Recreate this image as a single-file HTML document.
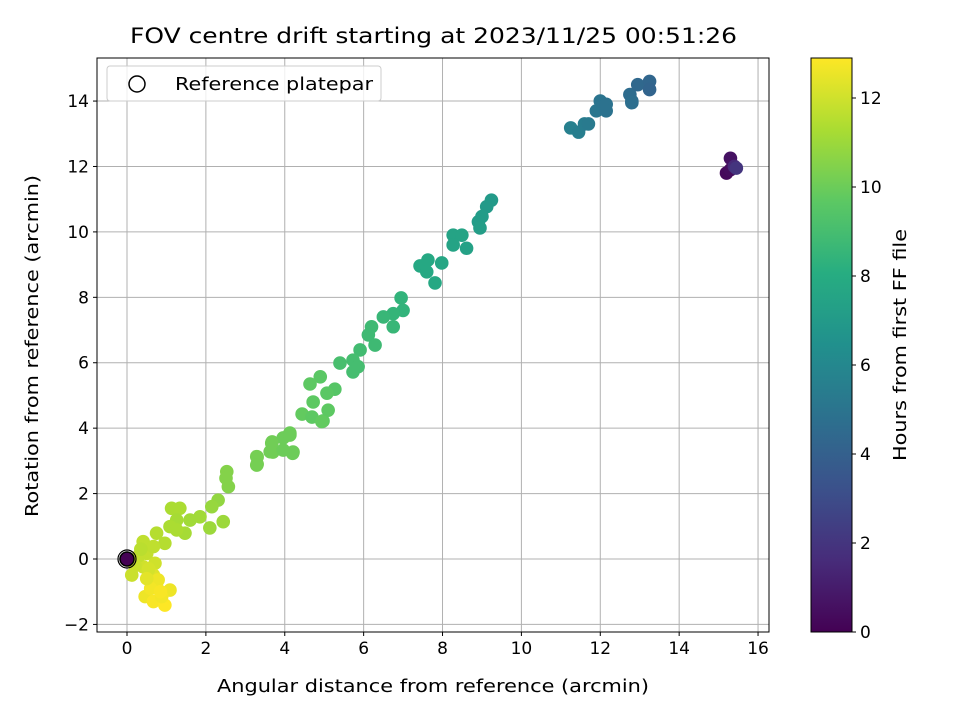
<!DOCTYPE html>
<html><head><meta charset="utf-8"><style>
body{margin:0;background:#fff}
svg text{font-family:"DejaVu Sans","Liberation Sans",sans-serif;fill:#000}
</style></head><body>
<svg id="chart" width="960" height="720" xmlns="http://www.w3.org/2000/svg">
<text x="130" y="43" font-size="21" textLength="607" lengthAdjust="spacingAndGlyphs">FOV centre drift starting at 2023/11/25 00:51:26</text>
<g id="grid"></g>
<g id="pts"></g>
<rect x="97" y="58" width="672" height="574" fill="none" stroke="#000" stroke-width="1"/>
<g id="axes"></g>
<text x="217" y="692" font-size="18" textLength="432" lengthAdjust="spacingAndGlyphs">Angular distance from reference (arcmin)</text>
<text transform="translate(38,517) rotate(-90)" font-size="18" textLength="342" lengthAdjust="spacingAndGlyphs">Rotation from reference (arcmin)</text>
<g>
<rect x="107" y="66" width="274" height="35" rx="3" fill="#fff" fill-opacity="0.8" stroke="#ccc"/>
<circle cx="137" cy="84" r="8" fill="none" stroke="#000" stroke-width="1.5"/>
<text x="175" y="90" font-size="18" textLength="198" lengthAdjust="spacingAndGlyphs">Reference platepar</text>
</g>
<defs><linearGradient id="vir" x1="0" y1="1" x2="0" y2="0"></linearGradient></defs>
<rect x="811" y="58" width="41" height="574" fill="url(#vir)" stroke="#000" stroke-width="1"/>
<g id="cbar"></g>
<text transform="translate(906,461) rotate(-90)" font-size="18" textLength="232" lengthAdjust="spacingAndGlyphs">Hours from first FF file</text>
</svg>
<script>
const xTicks=[0,2,4,6,8,10,12,14,16];
const yTicks=[-2,0,2,4,6,8,10,12,14];
const cTicks=[0,2,4,6,8,10,12];
const xs=[11.25,11.45,11.6,11.7,11.9,12.0,12.15,12.15,12.75,12.8,12.95,13.25,13.25,12.8,
15.2,15.3,15.3,15.4,15.45,
9.24,9.12,9.0,8.91,8.95,8.27,8.49,8.61,8.27,7.43,7.63,7.6,7.98,7.81,
6.95,7.0,6.75,6.5,6.75,6.2,6.12,6.29,5.91,5.73,5.86,5.73,5.4,
4.9,4.64,5.27,5.07,4.72,5.1,4.44,4.97,4.69,
4.13,3.68,3.96,4.21,3.7,3.3,3.3,
4.94,4.13,3.67,3.63,4.2,3.96,3.29,3.29,2.53,2.51,2.57,2.31,2.15,2.44,2.1,1.85,1.6,1.13,1.34,1.26,1.09,1.47,1.26,0.75,0.96,0.41,0.5,0.67,0.25,0.12,0.41,0.71,0.67,0.75,1.09,0.46,0.67,0.96,0.88,0.79,0.3,0.55,0.2,0.6,0.35,0.85,0.5];
const ys=[13.18,13.05,13.3,13.3,13.7,14.0,13.9,13.7,14.2,14.0,14.5,14.6,14.35,13.95,
11.8,11.9,12.25,12.0,11.95,
10.97,10.77,10.47,10.31,10.12,9.9,9.9,9.5,9.6,8.96,9.14,8.78,9.05,8.44,
7.98,7.6,7.5,7.4,7.1,7.1,6.85,6.54,6.39,6.08,5.88,5.72,5.99,
5.57,5.35,5.19,5.07,4.8,4.55,4.43,4.22,4.34,
3.85,3.58,3.7,3.27,3.27,3.12,2.9,
4.2,3.79,3.54,3.28,3.23,3.33,3.13,2.87,2.67,2.47,2.21,1.8,1.6,1.14,0.95,1.29,1.19,1.55,1.55,1.19,0.99,0.79,0.89,0.79,0.48,0.53,0.17,0.38,-0.03,-0.49,-0.24,-0.13,-0.49,-0.74,-0.95,-1.15,-1.3,-1.41,-1.15,-0.64,0.1,-0.3,-0.2,-0.9,0.3,-1.0,-0.6];
const hrs=[5.6,5.5,5.4,5.3,5.1,5.0,4.9,4.9,4.6,4.6,4.4,4.3,4.2,4.7,
0.3,0.4,0.6,1.5,2.0,
7.0,7.0,7.1,7.1,7.2,7.5,7.5,7.4,7.5,7.8,7.8,7.8,7.7,7.8,
8.4,8.4,8.5,8.6,8.6,8.8,8.8,8.8,8.9,9.0,9.0,9.0,9.1,
9.6,9.7,9.5,9.6,9.7,9.7,9.8,9.7,9.7,
10.0,10.1,10.0,10.0,10.1,10.2,10.2,
9.8,10.0,10.1,10.1,10.0,10.0,10.2,10.2,10.5,10.5,10.5,10.8,10.9,11.0,11.0,11.1,11.1,11.3,11.3,11.2,11.3,11.2,11.3,11.5,11.5,11.7,11.8,11.7,12.0,11.9,12.0,12.0,12.3,12.5,12.6,12.6,12.8,12.9,12.7,12.6,11.8,12.1,11.9,12.7,11.6,12.8,12.4];
const X=v=>127+v*39.44, Y=v=>559-v*32.71, C=v=>632-v*(534/12);
const V=[[0,[68,1,84]],[.125,[71,44,122]],[.25,[59,81,139]],[.375,[44,113,142]],[.5,[33,144,141]],[.625,[39,173,129]],[.75,[92,200,99]],[.875,[170,220,50]],[1,[253,231,37]]];
function vir(t){t=Math.max(0,Math.min(1,t));for(let i=1;i<V.length;i++){if(t<=V[i][0]){const a=V[i-1],b=V[i],f=(t-a[0])/(b[0]-a[0]);return 'rgb('+a[1].map((c,k)=>Math.round(c+(b[1][k]-c)*f)).join(',')+')';}}}
const NS='http://www.w3.org/2000/svg';
function mk(t,a,p){const e=document.createElementNS(NS,t);for(const k in a)e.setAttribute(k,a[k]);p.appendChild(e);return e;}
const grid=document.getElementById('grid'),axes=document.getElementById('axes');
xTicks.forEach(t=>{const x=X(t);
const g=mk('line',{x1:x,x2:x,y1:58,y2:632,stroke:'#b0b0b0','stroke-width':1},grid);


mk('line',{x1:x,x2:x,y1:632,y2:636,stroke:'#000'},axes);
const l=mk('text',{x:x,y:654,'font-size':17,'text-anchor':'middle'},axes);l.textContent=t;

});
yTicks.forEach(t=>{const y=Y(t);
const g=mk('line',{x1:97,x2:769,y1:y,y2:y,stroke:'#b0b0b0','stroke-width':1},grid);


mk('line',{x1:93,x2:97,y1:y,y2:y,stroke:'#000'},axes);
const l=mk('text',{x:89,y:y+6,'font-size':17,'text-anchor':'end'},axes);l.textContent=t<0?'\u2212'+(-t):t;

});
const pts=document.getElementById('pts');
xs.forEach((x,i)=>{const c=mk('circle',{cx:X(x),cy:Y(ys[i]),r:6.8,fill:vir(hrs[i]/12.9)},pts);

});
const ref=mk('circle',{cx:X(0),cy:Y(0),r:7,fill:vir(0),stroke:'#000','stroke-width':1.5},pts);


const ring=mk('circle',{cx:X(0),cy:Y(0),r:9,fill:'none',stroke:'#000','stroke-width':1.2},pts);


const gr=document.getElementById('vir');
for(let i=0;i<=16;i++){mk('stop',{offset:i/16,'stop-color':vir(i/16)},gr);}
const cb=document.getElementById('cbar');
cTicks.forEach(t=>{const y=C(t);mk('line',{x1:852,x2:856,y1:y,y2:y,stroke:'#000'},cb);
const l=mk('text',{x:860,y:y+6,'font-size':17},cb);l.textContent=t;

});
</script>
</body></html>
